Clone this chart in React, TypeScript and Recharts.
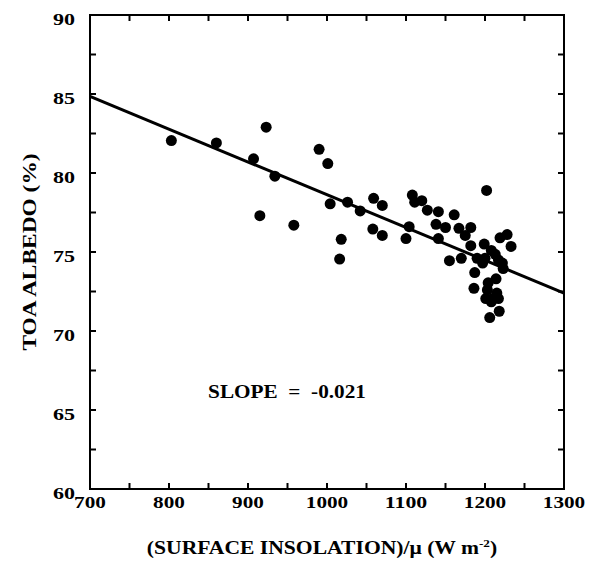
import React from 'react';
import {
  ScatterChart,
  Scatter,
  XAxis,
  YAxis,
  ReferenceLine,
} from 'recharts';

// surface insolation / mu (W m-2) and TOA albedo (%) for each point
const insolation = [
  803, 860, 907, 923, 934, 915, 958, 990, 1001, 1004, 1026, 1042, 1018, 1016, 1059,
  1070, 1058, 1070, 1100, 1104, 1108, 1111, 1120, 1127, 1141, 1138, 1150, 1141, 1161, 1167,
  1175, 1182, 1182, 1155, 1170, 1202, 1187, 1186, 1199, 1190, 1200, 1208, 1213, 1217, 1222,
  1223, 1219, 1228, 1233, 1214, 1204, 1203, 1201, 1208, 1215, 1217, 1206, 1218, 1197, 1210,
];
const albedo = [
  82.05, 81.9, 80.9, 82.9, 79.8, 77.3, 76.7, 81.5, 80.6, 78.05, 78.15, 77.6, 75.8, 74.55, 78.4,
  77.95, 76.45, 76.05, 75.85, 76.6, 78.6, 78.15, 78.25, 77.65, 77.55, 76.75, 76.55, 75.85, 77.35, 76.5,
  76.05, 76.55, 75.4, 74.45, 74.6, 78.9, 73.7, 72.7, 75.5, 74.6, 74.6, 75.1, 74.85, 74.5, 74.3,
  73.95, 75.9, 76.1, 75.35, 73.3, 73.05, 72.6, 72.05, 71.85, 72.4, 72.05, 70.85, 71.25, 74.3, 72.05,
];

// regression line end points
const fitX = [700, 1300];
const fitY = [84.85, 72.4];

const xTicks = [700, 750, 800, 850, 900, 950, 1000, 1050, 1100, 1150, 1200, 1250, 1300];
const yTicks = [60, 62.5, 65, 67.5, 70, 72.5, 75, 77.5, 80, 82.5, 85, 87.5, 90];
const slopeText = 'SLOPE  =  -0.021';

const points = insolation.map((x, i) => ({ x, y: albedo[i] }));

const FONT = '"Liberation Serif", "Times New Roman", serif';
const W = 593;
const H = 564;
const M = { top: 15, right: 29, bottom: 74, left: 89 };
// plot box size (axes are 1px wide / high)
const PLOT_W = W - M.left - M.right - 1;
const PLOT_H = H - M.top - M.bottom - 1;
const TICK = 6;

// bottom tick + label, and the matching inward tick on the top side
const BottomTick = ({ x, y, payload }: any) => {
  const v = payload.value;
  const label = v % 100 === 0 ? String(v) : '';
  return (
    <g>
      <line x1={x} y1={y} x2={x} y2={y - TICK} stroke="#000" strokeWidth={2} />
      <line x1={x} y1={y - PLOT_H} x2={x} y2={y - PLOT_H + TICK} stroke="#000" strokeWidth={2} />
      {label && (
        <text
          x={x}
          y={y + 19}
          textAnchor="middle"
          fontWeight="bold"
          fontSize={16}
          textLength={label.length * 10.6}
          lengthAdjust="spacingAndGlyphs"
          fill="#000"
        >
          {label}
        </text>
      )}
    </g>
  );
};

// left tick + label, and the matching inward tick on the right side
const LeftTick = ({ x, y, payload }: any) => {
  const v = payload.value;
  const label = v % 5 === 0 ? String(v) : '';
  return (
    <g>
      <line x1={x} y1={y} x2={x + TICK} y2={y} stroke="#000" strokeWidth={2} />
      <line x1={x + PLOT_W} y1={y} x2={x + PLOT_W - TICK} y2={y} stroke="#000" strokeWidth={2} />
      {label && (
        <text
          x={x - 15}
          y={y + 10}
          textAnchor="end"
          fontWeight="bold"
          fontSize={16}
          textLength={label.length * 11}
          lengthAdjust="spacingAndGlyphs"
          fill="#000"
        >
          {label}
        </text>
      )}
    </g>
  );
};

const Dot = (p: any) => <circle cx={p.cx} cy={p.cy} r={5.5} fill="#000" />;

export default function App() {
  return (
    <div
      style={{
        position: 'absolute',
        left: 0,
        top: 0,
        width: W,
        height: H,
        background: '#fff',
        fontFamily: FONT,
      }}
    >
      <ScatterChart width={W} height={H} margin={M}>
        <XAxis
          type="number"
          dataKey="x"
          domain={[700, 1300]}
          ticks={xTicks}
          interval={0}
          height={1}
          tickSize={0}
          tickMargin={0}
          tickLine={false}
          axisLine={{ stroke: '#000', strokeWidth: 2 }}
          tick={<BottomTick />}
        />
        <YAxis
          type="number"
          dataKey="y"
          domain={[60, 90]}
          ticks={yTicks}
          interval={0}
          width={1}
          tickSize={0}
          tickMargin={0}
          tickLine={false}
          axisLine={{ stroke: '#000', strokeWidth: 2 }}
          tick={<LeftTick />}
        />
        <ReferenceLine
          segment={[
            { x: fitX[0], y: fitY[0] },
            { x: fitX[1], y: fitY[1] },
          ]}
          stroke="#000"
          strokeWidth={3}
        />
        <Scatter data={points} shape={Dot} isAnimationActive={false} />
      </ScatterChart>

      {/* plot frame */}
      <div
        style={{
          position: 'absolute',
          left: M.left,
          top: M.top - 1,
          width: PLOT_W + 2,
          height: PLOT_H + 2,
          border: '2px solid #000',
          boxSizing: 'border-box',
          pointerEvents: 'none',
          zIndex: 10,
        }}
      />

      <div
        style={{
          position: 'absolute',
          left: 30,
          top: 252,
          transform: 'translate(-50%, -50%) rotate(-90deg) scaleX(1.3)',
          whiteSpace: 'nowrap',
          fontWeight: 'bold',
          fontSize: 18,
        }}
      >
        TOA ALBEDO (%)
      </div>
      <div
        style={{
          position: 'absolute',
          left: 322,
          top: 548,
          transform: 'translate(-50%, -50%) scaleX(1.2)',
          whiteSpace: 'nowrap',
          fontWeight: 'bold',
          fontSize: 18,
        }}
      >
        (SURFACE INSOLATION)/μ (W m<sup style={{ fontSize: 11 }}>-2</sup>)
      </div>
      <div
        style={{
          position: 'absolute',
          left: 287,
          top: 392,
          transform: 'translate(-50%, -50%) scaleX(1.18)',
          whiteSpace: 'pre',
          fontWeight: 'bold',
          fontSize: 18,
        }}
      >
        {slopeText}
      </div>
    </div>
  );
}
